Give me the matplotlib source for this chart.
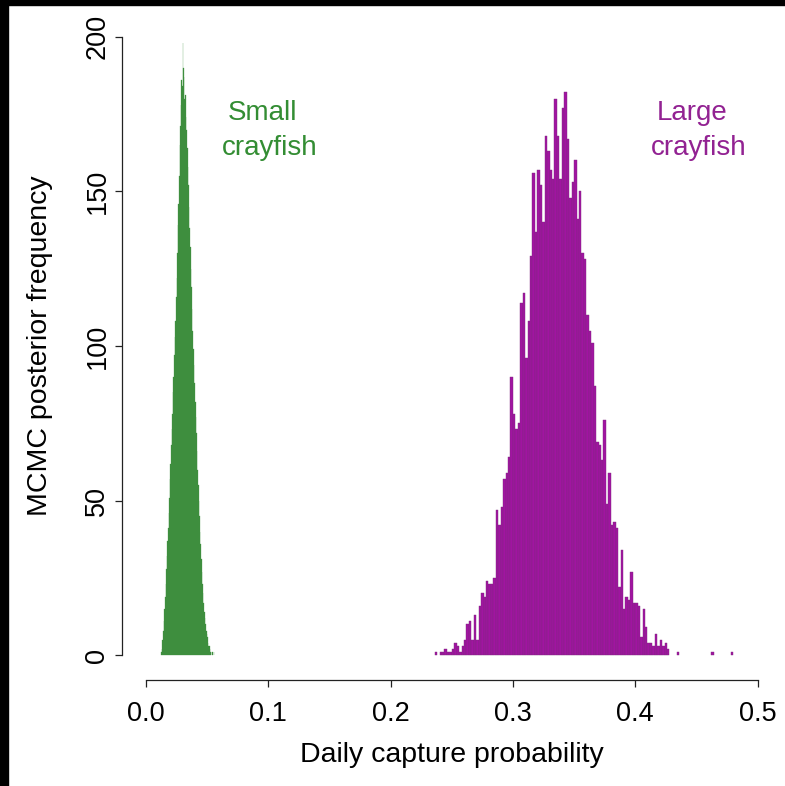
import matplotlib
matplotlib.use("Agg")
import numpy as np
import matplotlib.pyplot as plt
from matplotlib.patches import Rectangle

# posterior histograms
small_start = 0.012
small_width = 0.0005
small_counts = [0, 1, 2, 5, 8, 11, 15, 19, 23, 28,
                32, 37, 41, 46, 51, 57, 62, 68, 73, 78,
                85, 90, 97, 103, 108, 116, 122, 130, 139, 146,
                155, 165, 171, 178, 186, 184, 198, 190, 187, 180,
                181, 174, 170, 164, 158, 152, 145, 138, 132, 125,
                119, 112, 105, 99, 94, 88, 82, 77, 72, 66,
                60, 55, 50, 45, 40, 36, 31, 27, 23, 20,
                17, 14, 12, 10, 8, 7, 6, 4, 3, 3,
                2, 1, 1, 0, 1, 0, 0, 1]

large_start = 0.236
large_width = 0.002
large_counts = [1, 0, 1, 1, 2, 1, 1, 2, 4, 3,
                1, 3, 5, 10, 11, 5, 13, 5, 16, 20,
                19, 24, 23, 23, 25, 47, 42, 48, 57, 59,
                64, 90, 78, 73, 75, 114, 117, 96, 108, 129,
                156, 137, 157, 152, 140, 168, 163, 157, 154, 180,
                168, 154, 177, 182, 167, 148, 153, 160, 141, 150,
                130, 128, 110, 105, 101, 87, 69, 68, 63, 76,
                49, 59, 42, 43, 41, 22, 34, 15, 19, 18,
                27, 17, 17, 16, 6, 15, 9, 4, 4, 3,
                7, 3, 5, 3, 4, 2, 0, 0, 0, 1,
                0, 0, 0, 0, 0, 0, 0, 0, 0, 0,
                0, 0, 0, 1, 0, 0, 0, 0, 0, 0,
                0, 1]

x_ticks = [0.0, 0.1, 0.2, 0.3, 0.4, 0.5]
x_tick_labels = ['0.0', '0.1', '0.2', '0.3', '0.4', '0.5']
y_ticks = [0, 50, 100, 150, 200]
y_tick_labels = ['0', '50', '100', '150', '200']

axis_font = ['Liberation Sans', 'DejaVu Sans']
note_font = ['Liberation Sans', 'DejaVu Sans']

green = '#3e8e3e'
purple = '#a114a1'


def draw_hist(ax, start, width, counts, fc, ec, lw):
    counts = np.array(counts, dtype=float)
    left = start + width * np.arange(len(counts))
    keep = counts > 0
    ax.bar(left[keep], counts[keep], width=width, align='edge',
           color=fc, edgecolor=ec, linewidth=lw)


fig = plt.figure(figsize=(7.85, 7.86), dpi=100)
ax = fig.add_axes([121.5 / 785, 106 / 786, (782 - 121.5) / 785, (680 - 12) / 786])

draw_hist(ax, small_start, small_width, small_counts, green, green, 0.2)
draw_hist(ax, large_start, large_width, large_counts, purple, '#7e2a7e', 0.3)

ax.set_xlim(-0.02, 0.52)
ax.set_ylim(-8, 208)

for side in ['top', 'right']:
    ax.spines[side].set_visible(False)
ax.spines['left'].set_bounds(0, 200)
ax.spines['bottom'].set_bounds(0, 0.5)
for side in ['left', 'bottom']:
    ax.spines[side].set_linewidth(0.9)
    ax.spines[side].set_color('#222222')

ax.set_xticks(x_ticks)
ax.set_xticklabels(x_tick_labels, family=axis_font, fontsize=19.5)
ax.set_yticks(y_ticks)
ax.set_yticklabels(y_tick_labels, family=axis_font, fontsize=19.5,
                   rotation=90, va='center')
ax.tick_params(axis='both', length=5, width=0.9, color='#222222')
ax.tick_params(axis='x', pad=10)
ax.tick_params(axis='y', pad=3)

ax.set_xlabel('Daily capture probability', family=axis_font, fontsize=20.5)
ax.xaxis.label.set_va('center')
ax.xaxis.set_label_coords(0.5, (680 - 755) / 668)
ax.set_ylabel('MCMC posterior frequency', family=axis_font, fontsize=20.5)
ax.yaxis.label.set_va('center')
ax.yaxis.set_label_coords((40 - 121.5) / 660.5, 0.5)

# species labels
ax.text(0.0955, 175.4, 'Small', color='#338d33', family=note_font,
        fontsize=20, ha='center', va='center')
ax.text(0.1012, 164.1, 'crayfish', color='#338d33', family=note_font,
        fontsize=20, ha='center', va='center')
ax.text(0.4465, 175.4, 'Large', color='#922292', family=note_font,
        fontsize=20, ha='center', va='center')
ax.text(0.4522, 164.1, 'crayfish', color='#922292', family=note_font,
        fontsize=20, ha='center', va='center')

# black frame strips on the top and left edge of the original image
fig.patches.append(Rectangle((0, 1 - 5 / 786), 1, 5 / 786, transform=fig.transFigure,
                             color='black', zorder=10))
fig.patches.append(Rectangle((0, 0), 8 / 785, 1, transform=fig.transFigure,
                             color='black', zorder=10))

fig.savefig('out.png', dpi=100, facecolor='white')
